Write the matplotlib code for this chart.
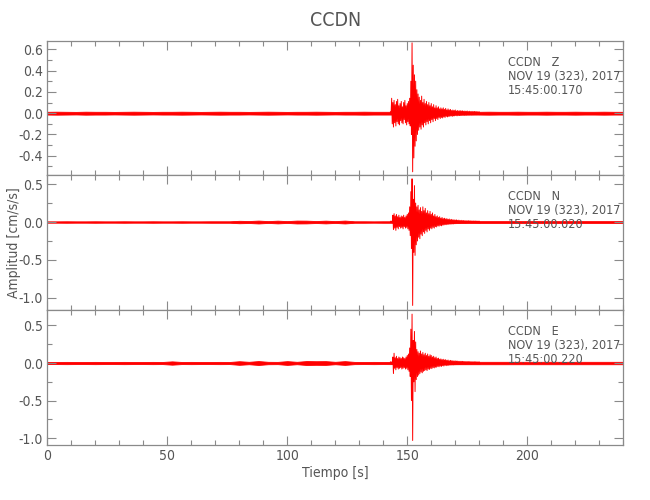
import numpy as np
import matplotlib
matplotlib.use("Agg")
import matplotlib.pyplot as plt
from matplotlib import font_manager
from matplotlib.ticker import MultipleLocator, FuncFormatter
import os

# ---------------- data ----------------
station = "CCDN"
components = ["Z", "N", "E"]
date_label = "NOV 19 (323), 2017"
start_times = ["15:45:00.170", "15:45:00.020", "15:45:00.220"]

# background noise half-amplitude, one value every 4 s from 0 to 240 s
bg_step = 4.0
Z_bg = [0.013, 0.014, 0.013, 0.012, 0.014, 0.013, 0.013, 0.012, 0.013, 0.014,
        0.013, 0.012, 0.013, 0.013, 0.014, 0.013, 0.012, 0.013, 0.014, 0.013,
        0.013, 0.012, 0.013, 0.014, 0.013, 0.012, 0.013, 0.013, 0.014, 0.013,
        0.012, 0.013, 0.013, 0.014, 0.013, 0.013, 0.013, 0.013, 0.013, 0.013,
        0.013, 0.013, 0.013, 0.013, 0.013, 0.013, 0.014, 0.013, 0.013, 0.014,
        0.013, 0.013, 0.014, 0.013, 0.013, 0.014, 0.013, 0.013, 0.014, 0.013,
        0.013]
N_bg = [0.009, 0.009, 0.010, 0.009, 0.009, 0.010, 0.009, 0.009, 0.010, 0.009,
        0.009, 0.010, 0.009, 0.009, 0.010, 0.009, 0.009, 0.010, 0.010, 0.010,
        0.016, 0.013, 0.019, 0.012, 0.018, 0.012, 0.019, 0.018, 0.013, 0.018,
        0.012, 0.019, 0.010, 0.010, 0.009, 0.010, 0.010, 0.010, 0.010, 0.010,
        0.010, 0.010, 0.010, 0.011, 0.011, 0.012, 0.012, 0.012, 0.012, 0.012,
        0.012, 0.012, 0.012, 0.012, 0.012, 0.012, 0.012, 0.012, 0.012, 0.012,
        0.012]
E_bg = [0.014, 0.014, 0.015, 0.014, 0.014, 0.015, 0.014, 0.014, 0.015, 0.014,
        0.014, 0.015, 0.014, 0.022, 0.014, 0.015, 0.014, 0.014, 0.015, 0.014,
        0.024, 0.016, 0.026, 0.016, 0.015, 0.025, 0.016, 0.026, 0.024, 0.025,
        0.016, 0.025, 0.015, 0.014, 0.015, 0.014, 0.015, 0.015, 0.015, 0.015,
        0.015, 0.015, 0.015, 0.016, 0.016, 0.016, 0.016, 0.016, 0.016, 0.016,
        0.016, 0.016, 0.016, 0.016, 0.016, 0.016, 0.016, 0.016, 0.016, 0.016,
        0.016]

# event window: upper/lower envelope every 0.5 s from 143.0 to 180.0 s
evt_start, evt_step = 143.0, 0.5
Z_hi = [0.012, 0.14, 0.10, 0.12, 0.08, 0.11, 0.13, 0.07, 0.09, 0.11,
        0.06, 0.10, 0.12, 0.07, 0.09, 0.11, 0.14, 0.30, 0.66, 0.45,
        0.36, 0.30, 0.22, 0.18, 0.15, 0.12, 0.16, 0.10, 0.13, 0.09,
        0.11, 0.08, 0.10, 0.07, 0.09, 0.06, 0.08, 0.05, 0.07, 0.05,
        0.06, 0.04, 0.05, 0.04, 0.05, 0.035, 0.045, 0.03, 0.04, 0.03,
        0.035, 0.025, 0.03, 0.025, 0.03, 0.02, 0.025, 0.02, 0.025, 0.02,
        0.022, 0.018, 0.02, 0.018, 0.02, 0.015, 0.018, 0.015, 0.017, 0.015,
        0.016, 0.014, 0.015, 0.013, 0.013]
Z_lo = [-0.012, -0.10, -0.13, -0.09, -0.12, -0.08, -0.10, -0.11, -0.07, -0.09,
        -0.10, -0.06, -0.09, -0.11, -0.08, -0.10, -0.12, -0.20, -0.55, -0.42,
        -0.31, -0.26, -0.20, -0.16, -0.13, -0.15, -0.11, -0.13, -0.09, -0.11,
        -0.08, -0.10, -0.07, -0.09, -0.06, -0.08, -0.05, -0.07, -0.05, -0.06,
        -0.04, -0.05, -0.04, -0.045, -0.035, -0.04, -0.03, -0.035, -0.03, -0.03,
        -0.025, -0.03, -0.025, -0.025, -0.02, -0.025, -0.02, -0.022, -0.02, -0.02,
        -0.018, -0.02, -0.017, -0.018, -0.016, -0.017, -0.015, -0.016, -0.015, -0.015,
        -0.014, -0.014, -0.013, -0.013, -0.013]
N_hi = [0.01, 0.012, 0.09, 0.11, 0.08, 0.10, 0.07, 0.09, 0.06, 0.08,
        0.07, 0.09, 0.06, 0.08, 0.10, 0.12, 0.20, 0.40, 0.57, 0.30,
        0.48, 0.25, 0.20, 0.22, 0.16, 0.19, 0.14, 0.20, 0.15, 0.18,
        0.12, 0.15, 0.11, 0.14, 0.10, 0.12, 0.08, 0.10, 0.07, 0.08,
        0.06, 0.07, 0.05, 0.06, 0.045, 0.05, 0.04, 0.045, 0.035, 0.04,
        0.03, 0.035, 0.028, 0.03, 0.025, 0.028, 0.022, 0.025, 0.02, 0.022,
        0.018, 0.02, 0.017, 0.018, 0.016, 0.017, 0.015, 0.016, 0.014, 0.015,
        0.013, 0.014, 0.013, 0.013, 0.012]
N_lo = [-0.01, -0.012, -0.10, -0.08, -0.11, -0.07, -0.09, -0.06, -0.08, -0.07,
        -0.09, -0.06, -0.08, -0.07, -0.09, -0.11, -0.18, -0.35, -1.10, -0.40,
        -0.44, -0.30, -0.25, -0.20, -0.22, -0.16, -0.18, -0.13, -0.15, -0.11,
        -0.13, -0.09, -0.11, -0.08, -0.09, -0.07, -0.08, -0.06, -0.065, -0.05,
        -0.055, -0.045, -0.05, -0.04, -0.04, -0.035, -0.035, -0.03, -0.03, -0.028,
        -0.028, -0.025, -0.025, -0.022, -0.022, -0.02, -0.02, -0.018, -0.018, -0.017,
        -0.017, -0.016, -0.016, -0.015, -0.015, -0.014, -0.014, -0.014, -0.013, -0.013,
        -0.013, -0.012, -0.012, -0.012, -0.012]
E_hi = [0.015, 0.015, 0.08, 0.13, 0.07, 0.09, 0.06, 0.08, 0.07, 0.06,
        0.08, 0.07, 0.06, 0.08, 0.10, 0.12, 0.20, 0.45, 0.65, 0.30,
        0.42, 0.28, 0.18, 0.15, 0.13, 0.16, 0.12, 0.14, 0.11, 0.13,
        0.10, 0.12, 0.09, 0.11, 0.10, 0.08, 0.09, 0.07, 0.08, 0.06,
        0.065, 0.05, 0.055, 0.045, 0.05, 0.04, 0.045, 0.035, 0.04, 0.03,
        0.035, 0.03, 0.03, 0.027, 0.028, 0.025, 0.025, 0.023, 0.023, 0.022,
        0.022, 0.02, 0.02, 0.019, 0.019, 0.018, 0.018, 0.017, 0.017, 0.016,
        0.016, 0.016, 0.015, 0.015, 0.015]
E_lo = [-0.015, -0.015, -0.14, -0.07, -0.09, -0.06, -0.08, -0.07, -0.06, -0.08,
        -0.07, -0.06, -0.08, -0.07, -0.09, -0.11, -0.18, -0.50, -1.03, -0.25,
        -0.38, -0.22, -0.18, -0.16, -0.14, -0.12, -0.13, -0.11, -0.10, -0.09,
        -0.10, -0.08, -0.085, -0.07, -0.075, -0.06, -0.065, -0.055, -0.055, -0.045,
        -0.05, -0.04, -0.045, -0.035, -0.04, -0.03, -0.035, -0.03, -0.03, -0.027,
        -0.027, -0.025, -0.025, -0.023, -0.023, -0.022, -0.021, -0.02, -0.02, -0.019,
        -0.019, -0.018, -0.018, -0.017, -0.017, -0.016, -0.016, -0.016, -0.015, -0.015,
        -0.015, -0.015, -0.015, -0.015, -0.015]

ylims = [(-0.58, 0.68), (-1.16, 0.62), (-1.09, 0.705)]
ymajor = [0.2, 0.5, 0.5]
yminor = [0.1, 0.25, 0.25]
xlim = (0, 240)

# ---------------- font: prefer a narrow face ----------------
narrow_name = None
prefs = ["LiberationSansNarrow-Regular", "DejaVuSansCondensed.", "RobotoCondensed-Regular",
         "Roboto_Condensed-Regular", "OpenSans_Condensed-Regular", "OpenSans-CondensedRegular"]
files = font_manager.findSystemFonts()
for p in prefs:
    hit = [f for f in files if p.lower() in os.path.basename(f).lower()]
    if hit:
        try:
            font_manager.fontManager.addfont(hit[0])
            fp = font_manager.FontProperties(fname=hit[0])
            narrow_name = fp.get_name()
            if "dejavu" in hit[0].lower():
                plt.rcParams["font.stretch"] = "condensed"
            break
        except Exception:
            pass
if narrow_name:
    plt.rcParams["font.family"] = [narrow_name, "DejaVu Sans"]
    base = 10
else:
    plt.rcParams["font.family"] = ["DejaVu Sans"]
    base = 8.5

TXT = "#555555"
AX = "#8a8a8a"
RED = "#ff0000"

fig = plt.figure(figsize=(6.5, 5), dpi=100)
left, width = 0.0728, 0.886
panels = [(0.65, 0.2686), (0.38, 0.27), (0.11, 0.27)]

bgs = [Z_bg, N_bg, E_bg]
his = [Z_hi, N_hi, E_hi]
los = [Z_lo, N_lo, E_lo]

fmt = FuncFormatter(lambda v, p: ("%.1f" % v) if abs(v) > 1e-9 else "0.0")

for i, comp in enumerate(components):
    b, h = panels[i]
    ax = fig.add_axes([left, b, width, h])
    amp = np.array(bgs[i])
    tb = np.arange(len(amp)) * bg_step
    ax.fill_between(tb, -amp, amp, color=RED, lw=0.6)
    hi = np.array(his[i]); lo = np.array(los[i])
    te = evt_start + np.arange(len(hi)) * evt_step
    xs = np.empty(2 * len(te)); ys = np.empty(2 * len(te))
    xs[0::2] = te; xs[1::2] = te + evt_step / 2
    ys[0::2] = hi; ys[1::2] = lo
    ax.plot(xs, ys, color=RED, lw=0.7)

    ax.set_xlim(*xlim)
    ax.set_ylim(*ylims[i])
    ax.xaxis.set_major_locator(MultipleLocator(50))
    ax.xaxis.set_minor_locator(MultipleLocator(10))
    ax.yaxis.set_major_locator(MultipleLocator(ymajor[i]))
    ax.yaxis.set_minor_locator(MultipleLocator(yminor[i]))
    ax.yaxis.set_major_formatter(fmt)
    ax.tick_params(which="both", direction="in", top=True, right=True,
                   color=AX, labelcolor=TXT, labelsize=base, width=0.8)
    ax.tick_params(which="major", length=6.5, pad=3)
    ax.tick_params(which="minor", length=3.3)
    for s in ax.spines.values():
        s.set_color(AX); s.set_linewidth(0.9)
    if i < 2:
        ax.tick_params(labelbottom=False)
    else:
        ax.set_xlabel("Tiempo [s]", color=TXT, fontsize=base, labelpad=2)
    y0 = 0.84
    tr = ax.get_xaxis_transform()
    fs = base * 0.9
    ax.text(192, y0, f"{station}   {comp}", transform=tr,
            ha="left", va="center", color=TXT, fontsize=fs)
    ax.text(192, y0 - 0.104, date_label, transform=tr,
            ha="left", va="center", color=TXT, fontsize=fs)
    ax.text(192, y0 - 0.208, start_times[i], transform=tr,
            ha="left", va="center", color=TXT, fontsize=fs)

fig.text(0.517, 0.958, station, ha="center", va="center", color=TXT, fontsize=base * 1.4)
fig.text(0.021, 0.515, "Amplitud [cm/s/s]", rotation=90, ha="center", va="center",
         color=TXT, fontsize=base)

fig.savefig("out.png", dpi=100)
